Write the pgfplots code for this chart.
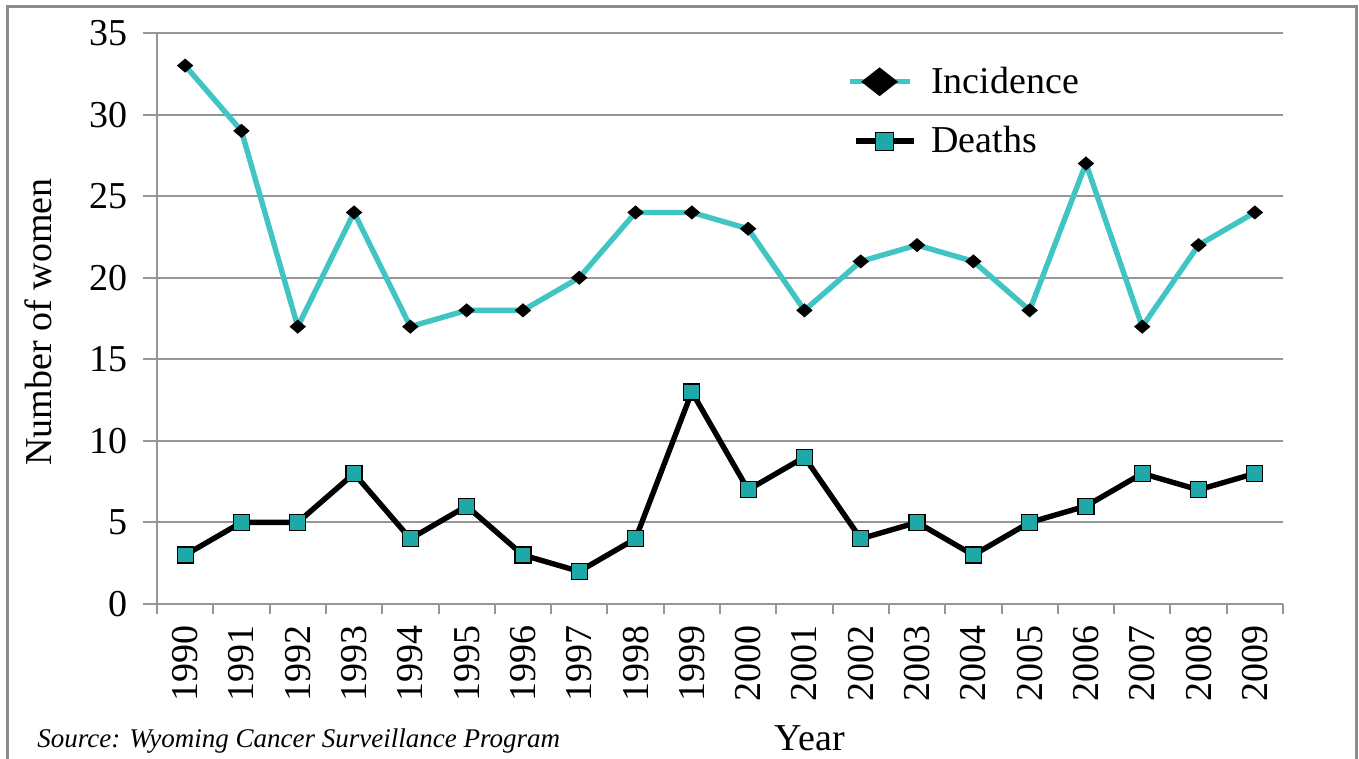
\documentclass[border=0pt]{standalone}
\usepackage{pgfplots}
\pgfplotsset{compat=1.18}
\usepackage{fontspec}
\setmainfont{Liberation Serif}
\definecolor{tealline}{RGB}{64,196,196}
\definecolor{tealfill}{RGB}{30,168,168}
\definecolor{axgray}{RGB}{150,150,150}
\definecolor{framegray}{RGB}{140,140,140}
\begin{document}
\begin{tikzpicture}
\path[use as bounding box] (0,0) rectangle (679.5pt,379.5pt);
\draw[framegray,line width=1.5pt] (3.5pt,0) -- (3.5pt,376pt) -- (678pt,376pt) -- (678pt,0);
\begin{axis}[
  at={(78.5pt,77.5pt)}, anchor=south west,
  scale only axis, width=563pt, height=285.5pt,
  xmin=-0.5, xmax=19.5, ymin=0, ymax=35,
  axis x line*=bottom, axis y line*=left,
  axis line style={axgray,line width=1pt},
  xtick={0,...,19},
  xticklabels={1990,1991,1992,1993,1994,1995,1996,1997,1998,1999,2000,2001,2002,2003,2004,2005,2006,2007,2008,2009},
  major x tick style={draw=none},
  minor xtick={-0.5,0.5,...,19.5},
  minor x tick style={axgray,line width=1pt},
  minor tick length=5pt,
  ytick={0,5,...,35},
  y tick style={axgray,line width=1pt},
  major tick length=7pt,
  tick align=outside,
  ymajorgrids, grid style={axgray,line width=1pt},
  xticklabel style={rotate=90, anchor=east, font=\fontsize{19}{21}\selectfont},
  yticklabel style={font=\fontsize{19}{21}\selectfont, xshift=-4pt},
  /pgf/number format/assume math mode=true,
  legend style={draw=none, fill=none, at={(0.607,0.955)}, anchor=north west,
    font=\fontsize{19}{21}\selectfont, row sep=11pt, cells={anchor=west}},
  clip=false,
]
\addplot[tealline, line width=2.7pt, mark=diamond*, mark size=3.2pt,
  mark options={fill=black, draw=black, line width=0.5pt, xscale=1.55},
  legend image code/.code={\draw[tealline,line width=2.7pt] (0pt,0pt) -- (30pt,0pt);
     \fill[black] (15pt,5.5pt) -- (22pt,0pt) -- (15pt,-5.5pt) -- (8pt,0pt) -- cycle;
     \path (37.5pt,0pt);}]
  coordinates {(0,33)(1,29)(2,17)(3,24)(4,17)(5,18)(6,18)(7,20)(8,24)(9,24)(10,23)(11,18)(12,21)(13,22)(14,21)(15,18)(16,27)(17,17)(18,22)(19,24)};
\addlegendentry{Incidence}
\addplot[black, line width=2.7pt, mark=square*, mark size=4pt, mark options={fill=tealfill, draw=black, line width=0.6pt},
  legend image code/.code={\draw[black,line width=2.7pt] (3pt,0pt) -- (32pt,0pt);
     \draw[fill=tealfill,draw=black,line width=0.6pt] (13pt,-4.5pt) rectangle (22pt,4.5pt);
     \path (37.5pt,0pt);}]
  coordinates {(0,3)(1,5)(2,5)(3,8)(4,4)(5,6)(6,3)(7,2)(8,4)(9,13)(10,7)(11,9)(12,4)(13,5)(14,3)(15,5)(16,6)(17,8)(18,7)(19,8)};
\addlegendentry{Deaths}
\end{axis}
\node[font=\fontsize{19}{21}\selectfont, rotate=90] at (19pt,218.5pt) {Number of women};
\node[font=\fontsize{19}{21}\selectfont] at (405pt,10.5pt) {Year};
\node[font=\fontsize{13.5}{15}\selectfont\itshape, anchor=base west, inner sep=0pt] at (18.5pt,5.5pt) {Source: Wyoming Cancer Surveillance Program};
\end{tikzpicture}
\end{document}
